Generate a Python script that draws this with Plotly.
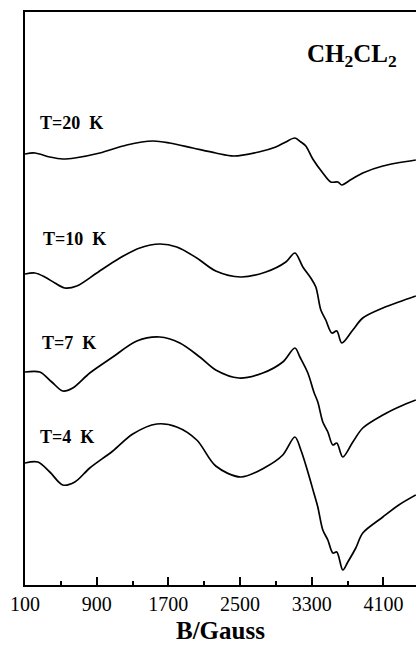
import plotly.graph_objects as go

# EPR spectra of the complex in CH2Cl2 at several temperatures (vertically offset)
field_20K = [100, 210, 377, 522, 656, 935, 1236, 1526, 1716, 1973, 2229, 2430, 2709, 2899,
             3011, 3112, 3179, 3234, 3312, 3424, 3513, 3592, 3636, 3714, 3870, 4094, 4462]
signal_20K = [431, 432, 428, 426, 427, 432, 440, 444, 442, 437, 432, 429, 433, 438,
              443, 447, 443, 439, 426, 412, 403, 403, 400, 404, 412, 419, 425]

field_10K = [100, 210, 321, 433, 544, 678, 901, 1158, 1381, 1604, 1794, 2017, 2229, 2508,
             2788, 3011, 3112, 3201, 3290, 3346, 3402, 3457, 3525, 3580, 3636, 3759, 3870,
             4094, 4272, 4462]
signal_10K = [311, 312, 308, 302, 297, 299, 312, 327, 337, 341, 338, 327, 314, 308,
              313, 323, 332, 318, 307, 298, 275, 265, 252, 254, 242, 255, 267,
              277, 283, 289]

field_7K = [100, 265, 399, 522, 633, 823, 1080, 1348, 1604, 1828, 2051, 2229, 2486, 2754,
            2977, 3112, 3168, 3257, 3324, 3368, 3424, 3480, 3536, 3580, 3647, 3759, 3870,
            4094, 4272, 4462]
signal_7K = [213, 213, 203, 194, 197, 212, 228, 244, 248, 242, 228, 215, 207, 212,
             223, 237, 228, 212, 193, 183, 163, 153, 140, 142, 128, 143, 157,
             170, 178, 185]

field_4K = [100, 243, 377, 522, 656, 823, 1080, 1303, 1571, 1794, 2017, 2229, 2508, 2788,
            2977, 3112, 3179, 3257, 3324, 3368, 3424, 3480, 3536, 3580, 3647, 3703, 3792,
            3870, 4094, 4272, 4462]
signal_4K = [122, 123, 113, 100, 103, 117, 134, 151, 161, 158, 145, 119, 108, 118,
             130, 148, 135, 113, 92, 78, 55, 45, 32, 33, 15, 23, 37,
             52, 68, 80, 90]

temp_labels = ["T=20  K", "T=10  K", "T=7  K", "T=4  K"]
label_field = [250, 280, 265, 240]
label_signal = [462, 346, 242, 148]

x_ticks = [100, 900, 1700, 2500, 3300, 4100]

serif = "Liberation Serif, Times New Roman, serif"

fig = go.Figure()
for fx, sy in [(field_20K, signal_20K), (field_10K, signal_10K),
               (field_7K, signal_7K), (field_4K, signal_4K)]:
    fig.add_trace(go.Scatter(x=fx, y=sy, mode="lines",
                             line=dict(color="black", width=1.7, shape="spline", smoothing=0.9),
                             showlegend=False, hoverinfo="skip"))

for txt, lx, ly in zip(temp_labels, label_field, label_signal):
    fig.add_annotation(x=lx, y=ly, xref="x", yref="y", text=f"<b>{txt}</b>",
                       showarrow=False, xanchor="left", yanchor="middle", align="left",
                       font=dict(family=serif, size=18, color="black"))

fig.add_annotation(x=3223, y=530, xref="x", yref="y",
                   text="<b>CH<sub>2</sub>CL<sub>2</sub></b>", showarrow=False,
                   xanchor="left", yanchor="middle", align="left",
                   font=dict(family=serif, size=25, color="black"))

fig.add_annotation(x=0.5, y=0, xref="paper", yref="paper", text="<b>B/Gauss</b>",
                   showarrow=False, xanchor="center", yanchor="top", yshift=-30,
                   font=dict(family=serif, size=25, color="black"))

fig.update_xaxes(range=[100, 4464], tickvals=x_ticks, ticktext=[str(v) for v in x_ticks],
                 ticks="inside", ticklen=8, tickwidth=1.5, tickcolor="black",
                 minor=dict(ticks="inside", ticklen=4, tickwidth=1.5, tickcolor="black",
                            tick0=100, dtick=400),
                 showline=True, linecolor="black", linewidth=2, mirror=True,
                 showgrid=False, zeroline=False,
                 tickfont=dict(family=serif, size=20, color="black"))
fig.update_yaxes(range=[0, 573], showticklabels=False, ticks="",
                 showline=True, linecolor="black", linewidth=2, mirror=False,
                 showgrid=False, zeroline=False)

fig.update_layout(width=416, height=647, margin=dict(l=25, r=0, t=12, b=62),
                  plot_bgcolor="white", paper_bgcolor="white")

fig.write_html("out.html")
